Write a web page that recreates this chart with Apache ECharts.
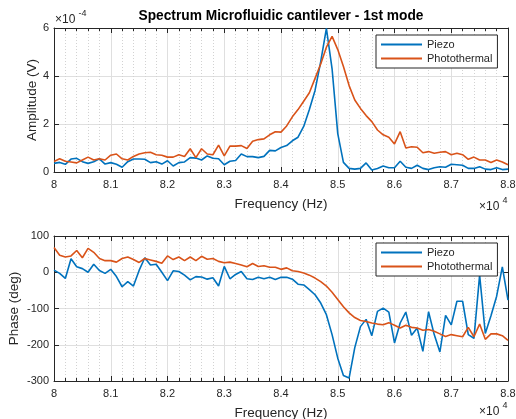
<!DOCTYPE html>
<html>
<head>
<meta charset="utf-8">
<script src="https://cdn.jsdelivr.net/npm/echarts@6/dist/echarts.min.js"></script>
<style>
  html, body { margin: 0; padding: 0; background: #fff; }
  #chart { width: 516px; height: 419px; }
</style>
</head>
<body>
<div id="chart"></div>
<script>
var myChart = echarts.init(document.getElementById("chart"));

// frequency sweep: 80000 Hz .. 88000 Hz, one sample every 100 Hz
var fStart = 80000;
var fStep = 100;

// amplitude in units of 1e-4 V
var piezoAmp = [
  0.36, 0.4, 0.32, 0.54, 0.57, 0.43, 0.36, 0.43, 0.55, 0.33,
  0.39, 0.32, 0.2, 0.43, 0.54, 0.54, 0.53, 0.39, 0.43, 0.33,
  0.47, 0.25, 0.39, 0.42, 0.6, 0.58, 0.5, 0.67, 0.57, 0.55,
  0.3, 0.45, 0.48, 0.75, 0.64, 0.64, 0.6, 0.65, 0.9, 0.88,
  1.02, 1.1, 1.3, 1.45, 1.9, 2.6, 3.4, 4.6, 5.98, 4.3,
  1.6, 0.4, 0.15, 0.12, 0.15, 0.38, 0.08, 0.15, 0.25, 0.18,
  0.18, 0.45, 0.2, 0.15, 0.28, 0.15, 0.1, 0.18, 0.22, 0.2,
  0.32, 0.3, 0.28, 0.15, 0.15, 0.22, 0.12, 0.1, 0.18, 0.1, 0.12
];
var photoAmp = [
  0.44, 0.55, 0.45, 0.42, 0.38, 0.5, 0.62, 0.5, 0.55, 0.5,
  0.7, 0.75, 0.55, 0.5, 0.65, 0.75, 0.8, 0.82, 0.72, 0.7,
  0.62, 0.62, 0.72, 0.65, 0.97, 0.6, 0.97, 0.75, 0.72, 1.12,
  0.67, 1.08, 1.08, 1.1, 0.98, 1.28, 1.35, 1.38, 1.55, 1.68,
  1.66, 1.92, 2.3, 2.6, 2.95, 3.3, 3.9, 4.5, 5.2, 5.65,
  5.1, 4.4, 3.6, 3.0, 2.65, 2.35, 2.1, 1.75, 1.55, 1.45,
  1.17, 1.68, 1.0, 1.05, 1.03, 0.8, 0.85, 0.78, 0.82, 0.85,
  0.72, 0.78, 0.72, 0.53, 0.62, 0.5, 0.5, 0.4, 0.5, 0.42, 0.3
];

// phase in degrees
var piezoPhase = [
  6, -3, -17, 37, 15, 10, 0, 22, 5, -3,
  8, -12, -40, -26, -38, 5, 40, 20, 22, 0,
  -23, 4, 2, -8, -21, -12, -13, -19, -15, -38,
  16, -18, -6, 2, -18, -20, -14, -18, -14, -20,
  -14, -14, -19, -33, -35, -48, -62, -85, -117, -172,
  -237, -285, -292, -208, -150, -130, -175, -108, -99, -110,
  -195, -140, -110, -174, -154, -218, -109, -172, -220, -119,
  -145, -80, -80, -172, -182, -8, -169, -120, -66, 15, -77
];
var photoPhase = [
  68, 47, 42, 45, 60, 40, 66, 55, 38, 32,
  32, 28, 38, 42, 35, 27, 38, 34, 30, 25,
  45, 35, 42, 32, 42, 32, 44, 36, 38, 30,
  26, 28, 24, 20, 15, 24, 16, 18, 14, 14,
  8, 12, 4, 2, -2, -8, -16, -26, -38, -55,
  -75, -95, -112, -125, -133, -136, -140, -143, -145, -139,
  -146, -154, -146, -152, -154, -160, -158, -163, -170, -177,
  -172, -175, -178, -152, -178, -143, -185, -170, -170, -175, -188
];

var seriesNames = ["Piezo", "Photothermal"];
var colors = ["#0072BD", "#D95319"];
var font = "Liberation Sans, Arial, Helvetica, sans-serif";
var ink = "#262626";

function pairs(arr) {
  return arr.map(function (v, i) { return [fStart + fStep * i, v]; });
}

function xAxisFor(grid, main) {
  return {
    type: "value",
    gridIndex: grid,
    position: main ? "bottom" : "top",
    min: 80000,
    max: 88000,
    interval: 1000,
    name: main ? "Frequency (Hz)" : "",
    nameLocation: "middle",
    nameGap: 25,
    nameMoveOverlap: false,
    nameTextStyle: { fontFamily: font, fontSize: 13.5, color: ink },
    axisLine: { show: true, onZero: false, lineStyle: { color: ink, width: 1 } },
    axisTick: { show: true, inside: true, length: 5, lineStyle: { color: ink } },
    minorTick: { show: true, splitNumber: 5, length: 3, lineStyle: { color: ink } },
    axisLabel: {
      show: main,
      fontFamily: font,
      fontSize: 11,
      color: ink,
      margin: 7,
      formatter: function (v) { return String(v / 10000); }
    },
    splitLine: { show: main, lineStyle: { color: "#dfdfdf", width: 1 } },
    minorSplitLine: { show: main, lineStyle: { color: "#d2d2d2", width: 1, type: [1, 2] } }
  };
}

function yAxisFor(grid, main, min, max, step, name, gap) {
  return {
    type: "value",
    gridIndex: grid,
    position: main ? "left" : "right",
    min: min,
    max: max,
    interval: step,
    name: main ? name : "",
    nameLocation: "middle",
    nameGap: gap,
    nameMoveOverlap: false,
    nameTextStyle: { fontFamily: font, fontSize: 13.5, color: ink },
    axisLine: { show: true, onZero: false, lineStyle: { color: ink, width: 1 } },
    axisTick: { show: true, inside: true, length: 5, lineStyle: { color: ink } },
    axisLabel: { show: main, fontFamily: font, fontSize: 11, color: ink, margin: 5 },
    splitLine: { show: main, lineStyle: { color: "#dfdfdf", width: 1 } }
  };
}

function legendAt(top) {
  return {
    data: seriesNames,
    orient: "vertical",
    left: 376,
    top: top,
    icon: "rect",
    itemWidth: 41,
    itemHeight: 2,
    itemGap: 3,
    padding: [4, 5, 4, 5],
    backgroundColor: "#fff",
    borderColor: ink,
    borderWidth: 1,
    borderRadius: 0,
    textStyle: { fontFamily: font, fontSize: 11, color: ink }
  };
}

function lineSeries(name, color, xi, yi, arr) {
  return {
    name: name,
    type: "line",
    xAxisIndex: xi,
    yAxisIndex: yi,
    data: pairs(arr),
    showSymbol: false,
    symbol: "none",
    clip: true,
    color: color,
    lineStyle: { color: color, width: 1.6 },
    emphasis: { disabled: true }
  };
}

function superscript(x, y, base, exp) {
  return [
    { type: "text", x: x, y: y, style: { text: base, font: "12px " + font, fill: ink, align: "left", verticalAlign: "middle" } },
    { type: "text", x: x + 23.5, y: y - 6, style: { text: exp, font: "9px " + font, fill: ink, align: "left", verticalAlign: "middle" } }
  ];
}

var option = {
  animation: false,
  backgroundColor: "#fff",
  title: {
    text: "Spectrum Microfluidic cantilever - 1st mode",
    left: 281,
    top: 9,
    textAlign: "center",
    padding: 0,
    textStyle: { fontFamily: font, fontSize: 13.75, fontWeight: "bold", color: "#000" }
  },
  legend: [legendAt(35), legendAt(243)],
  grid: [
    { left: 54, top: 28, width: 454, height: 144, containLabel: false, outerBoundsMode: "none" },
    { left: 54, top: 236, width: 454, height: 145, containLabel: false, outerBoundsMode: "none" }
  ],
  xAxis: [xAxisFor(0, true), xAxisFor(0, false), xAxisFor(1, true), xAxisFor(1, false)],
  yAxis: [
    yAxisFor(0, true, 0, 6, 2, "Amplitude (V)", 15),
    yAxisFor(0, false, 0, 6, 2, "", 0),
    yAxisFor(1, true, -300, 100, 100, "Phase (deg)", 33),
    yAxisFor(1, false, -300, 100, 100, "", 0)
  ],
  series: [
    lineSeries(seriesNames[0], colors[0], 0, 0, piezoAmp),
    lineSeries(seriesNames[1], colors[1], 0, 0, photoAmp),
    lineSeries(seriesNames[0], colors[0], 2, 2, piezoPhase),
    lineSeries(seriesNames[1], colors[1], 2, 2, photoPhase)
  ],
  graphic: [].concat(
    superscript(55, 20, "\u00d710", "-4"),
    superscript(479, 207, "\u00d710", "4"),
    superscript(479, 412, "\u00d710", "4")
  )
};

myChart.setOption(option);
</script>
</body>
</html>
